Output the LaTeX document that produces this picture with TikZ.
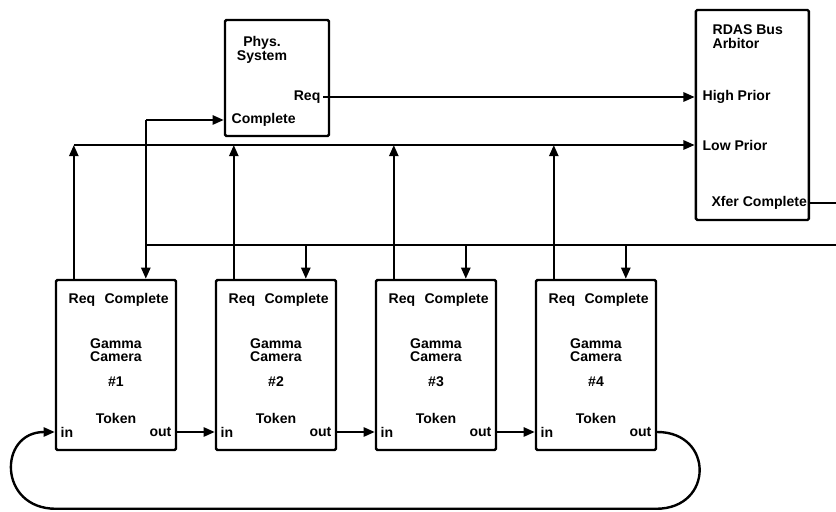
\documentclass[tikz,border=0pt]{standalone}
\usepackage{fontspec}
\setmainfont{Liberation Sans}
\usetikzlibrary{calc, positioning, arrows.meta}

\begin{document}
\begin{tikzpicture}[>={Triangle[length=8pt,width=6.5pt]}, line width=1.7pt,
  box/.style={draw, rounded corners=1pt, inner sep=0pt},
  lbl/.style={font=\bfseries, inner sep=1pt}]
  \useasboundingbox (0,0) rectangle (20.9,-12.8);
  % phys. system
  \node[box, minimum width=2.6cm, minimum height=2.9cm] (phys) at (6.925,-1.95) {};
  \node[lbl, align=center] (pname) at (6.55,-1.25) {Phys.\\[-2pt]System};
  \node[lbl, anchor=east] (preq) at (8.075,-2.425) {Req};
  \node[lbl, anchor=west] (pcomp) at (5.725,-3.0) {Complete};
  % bus arbitor
  \node[box, minimum width=2.825cm, minimum height=5.25cm] (arb) at (18.81,-2.875) {};
  \node[lbl, align=left, anchor=north west] (aname) at (17.75,-0.55) {RDAS Bus\\[-2pt]Arbitor};
  \node[lbl, anchor=west] (ahigh) at (17.5,-2.425) {High Prior};
  \node[lbl, anchor=west] (alow) at (17.5,-3.625) {Low Prior};
  \node[lbl, anchor=west] (axfer) at (17.725,-5.075) {Xfer Complete};
  \coordinate (xferend) at (20.9,-5.075);
  \coordinate (busend) at (20.9,-6.125);
  % gamma cameras
  \foreach \i/\x in {1/2.9,2/6.9,3/10.9,4/14.9} {
    \node[box, minimum width=3.0cm, minimum height=4.25cm] (c\i) at (\x,-9.125) {};
    \node[lbl, anchor=west] (creq\i) at (\x-1.25,-7.5) {Req};
    \node[lbl, anchor=east] (ccomp\i) at (\x+1.38,-7.5) {Complete};
    \node[lbl, align=center] (cname\i) at (\x,-8.75) {Gamma\\[-3pt]Camera};
    \node[lbl] (cnum\i) at (\x,-9.55) {\#\i};
    \node[lbl] (ctok\i) at (\x,-10.45) {Token};
    \node[lbl, anchor=west] (cin\i) at (\x-1.45,-10.8) {in};
    \node[lbl, anchor=east] (cout\i) at (\x+1.45,-10.8) {out};
    \coordinate (req\i) at ($(c\i.north west)+(0.475,0)$);
    \coordinate (cmp\i) at ($(c\i.north west)+(2.275,0)$);
    % request lines
    \draw[->] (req\i) -- (req\i |- alow);
  }
  % priority lines
  \draw[->] (preq) -- (preq -| arb.west);
  \draw[->] (req1 |- alow) -- (alow -| arb.west);
  % complete lines
  \draw (arb.east |- axfer) -- (xferend);
  \draw (cmp1 |- busend) -- (busend);
  \draw[->] (cmp1 |- pcomp) -- (pcomp -| phys.west);
  \draw[->] (cmp1 |- pcomp) -- (cmp1);
  \foreach \i in {2,3,4}
    \draw[->] (cmp\i |- busend) -- (cmp\i);
  % token ring
  \foreach \i/\j in {1/2,2/3,3/4}
    \draw[->] (cout\i -| c\i.east) -- (cin\j -| c\j.west);
  \draw[->] (cout4 -| c4.east) .. controls (17.85,-10.8) and (17.85,-12.72) .. (16.4,-12.72)
    -- (1.4,-12.72) .. controls (-0.05,-12.72) and (-0.05,-10.8) .. (cin1 -| c1.west);
\end{tikzpicture}
\end{document}
